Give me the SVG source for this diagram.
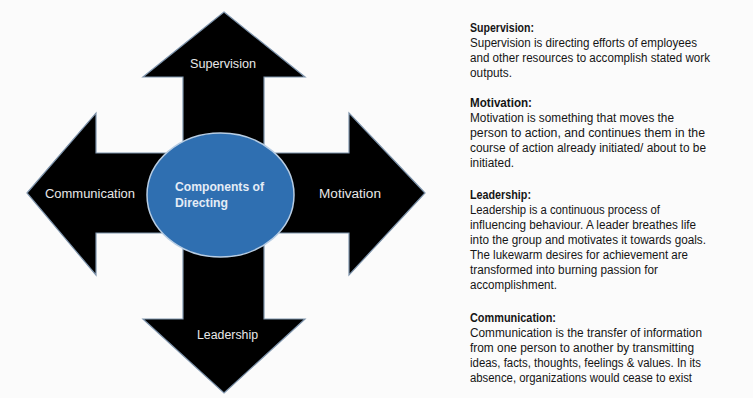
<svg xmlns="http://www.w3.org/2000/svg" width="753" height="398" viewBox="0 0 753 398">
<defs>
<style>
.arrow{fill:#000;stroke:#7d93ab;stroke-width:1.2;stroke-linejoin:miter}
.lbl{font-family:"Liberation Sans",Arial,sans-serif;font-size:12.5px;fill:#e8e8e8}
.ctr{font-family:"Liberation Sans",Arial,sans-serif;font-size:13.5px;font-weight:bold;fill:#e4ecf6}
.body{font-family:"Liberation Sans",Arial,sans-serif;font-size:12px;fill:#151515}
.head{font-weight:bold}
</style>
</defs>
<rect width="753" height="398" fill="#fbfbfb"/>
<g id="connectors">
<g id="arrow-supervision">
<polygon class="arrow" points="224,12 305,77 264,77 264,195 183,195 183,77 143,77"/>
<text class="lbl" x="223" y="68" text-anchor="middle" textLength="66" lengthAdjust="spacingAndGlyphs">Supervision</text>
</g>
<g id="arrow-leadership">
<polygon class="arrow" points="224,393 305,319 264,319 264,195 183,195 183,319 143,319"/>
<text class="lbl" x="227.5" y="339" text-anchor="middle" textLength="61" lengthAdjust="spacingAndGlyphs">Leadership</text>
</g>
<g id="arrow-communication">
<polygon class="arrow" points="27,193 96,113 96,153 220,153 220,233 96,233 96,275"/>
<text class="lbl" x="90" y="198" text-anchor="middle" textLength="90" lengthAdjust="spacingAndGlyphs">Communication</text>
</g>
<g id="arrow-motivation">
<polygon class="arrow" points="425,193 349,113 349,153 220,153 220,233 349,233 349,275"/>
<text class="lbl" x="350" y="197.5" text-anchor="middle" textLength="62" lengthAdjust="spacingAndGlyphs">Motivation</text>
</g>
</g>
<g id="center">
<ellipse cx="220.5" cy="195" rx="73.5" ry="62" fill="#2f6fb1" stroke="#b7cde4" stroke-width="1.5"/>
<text class="ctr" x="175" y="191" textLength="89" lengthAdjust="spacingAndGlyphs">Components of</text>
<text class="ctr" x="175" y="207" textLength="53" lengthAdjust="spacingAndGlyphs">Directing</text>
</g>
<g id="descriptions" class="body">
<text class="head" x="470" y="32" textLength="64" lengthAdjust="spacingAndGlyphs">Supervision:</text>
<text x="470" y="47" textLength="227" lengthAdjust="spacingAndGlyphs">Supervision is directing efforts of employees</text>
<text x="470" y="62" textLength="240" lengthAdjust="spacingAndGlyphs">and other resources to accomplish stated work</text>
<text x="470" y="76.5" textLength="42" lengthAdjust="spacingAndGlyphs">outputs.</text>
<text class="head" x="470" y="107" textLength="62" lengthAdjust="spacingAndGlyphs">Motivation:</text>
<text x="470" y="122" textLength="204" lengthAdjust="spacingAndGlyphs">Motivation is something that moves the</text>
<text x="470" y="137" textLength="235" lengthAdjust="spacingAndGlyphs">person to action, and continues them in the</text>
<text x="470" y="152" textLength="236" lengthAdjust="spacingAndGlyphs">course of action already initiated/ about to be</text>
<text x="470" y="167" textLength="44" lengthAdjust="spacingAndGlyphs">initiated.</text>
<text class="head" x="470" y="199" textLength="61" lengthAdjust="spacingAndGlyphs">Leadership:</text>
<text x="470" y="214" textLength="190" lengthAdjust="spacingAndGlyphs">Leadership is a continuous process of</text>
<text x="470" y="229" textLength="226" lengthAdjust="spacingAndGlyphs">influencing behaviour. A leader breathes life</text>
<text x="470" y="244" textLength="236" lengthAdjust="spacingAndGlyphs">into the group and motivates it towards goals.</text>
<text x="470" y="259" textLength="218" lengthAdjust="spacingAndGlyphs">The lukewarm desires for achievement are</text>
<text x="470" y="274" textLength="188" lengthAdjust="spacingAndGlyphs">transformed into burning passion for</text>
<text x="470" y="289" textLength="87" lengthAdjust="spacingAndGlyphs">accomplishment.</text>
<text class="head" x="470" y="321.5" textLength="86" lengthAdjust="spacingAndGlyphs">Communication:</text>
<text x="470" y="336.5" textLength="232" lengthAdjust="spacingAndGlyphs">Communication is the transfer of information</text>
<text x="470" y="351.5" textLength="224" lengthAdjust="spacingAndGlyphs">from one person to another by transmitting</text>
<text x="470" y="366.5" textLength="231" lengthAdjust="spacingAndGlyphs">ideas, facts, thoughts, feelings &amp; values. In its</text>
<text x="470" y="381.5" textLength="222" lengthAdjust="spacingAndGlyphs">absence, organizations would cease to exist</text>
</g>
</svg>
